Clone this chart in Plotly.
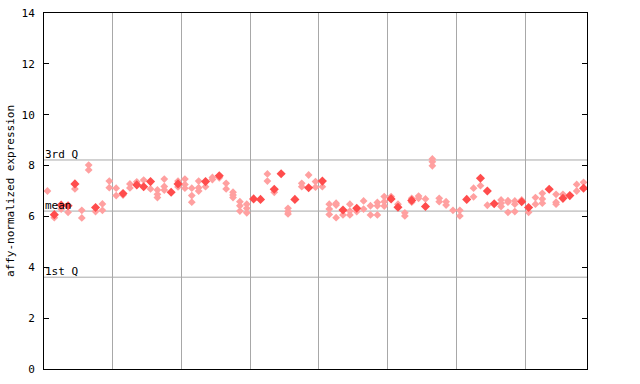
import plotly.graph_objects as go

N = None
# mean (filled) value per sample column
filled = [N, 6.07, 6.45, 6.42, 7.28, N, N, 6.35, N, N,
          N, 6.90, N, 7.24, 7.17, 7.37, N, N, 6.95, 7.28,
          N, N, N, 7.37, N, 7.60, N, N, N, N,
          6.69, 6.67, N, 7.07, 7.68, N, 6.67, N, 7.13, N,
          7.39, N, N, 6.25, N, 6.32, N, N, N, N,
          6.69, 6.36, N, 6.63, N, 6.39, N, N, N, N,
          N, 6.67, N, 7.50, 7.00, 6.50, N, N, N, 6.58,
          6.35, N, N, 7.07, N, 6.71, 6.82, N, 7.11]
# replicate values per sample column
rep1 = [7.00, 5.95, 6.29, 6.16, 7.08, 6.24, 8.02, 6.19, 6.49, 7.39,
        7.11, 6.84, 7.28, 7.36, 7.43, 7.08, 7.04, 7.47, N, 7.39,
        7.47, 7.11, 7.39, 7.17, 7.53, 7.52, 7.30, 6.95, 6.58, 6.48,
        N, N, 7.67, 6.95, N, 6.32, N, 7.30, 7.63, 7.37,
        7.17, 6.48, 6.52, 6.06, 6.48, 6.19, 6.61, 6.42, 6.55, 6.78,
        6.78, 6.48, 6.14, 6.71, 6.80, 6.69, 8.26, 6.71, 6.58, 6.24,
        6.24, N, 7.11, 7.21, 6.44, N, 6.65, 6.62, 6.61, 6.65,
        6.16, 6.74, 6.91, N, 6.87, 6.87, N, 7.26, 7.34]
rep2 = [N, N, N, N, N, 5.94, 7.83, N, 6.24, 7.13,
        6.82, N, 7.12, N, N, N, 6.87, 7.18, N, 7.16,
        7.26, 6.82, 7.13, N, 7.45, N, 7.08, 6.84, 6.42, 6.32,
        N, N, 7.39, N, N, 6.19, N, 7.17, N, 7.15,
        N, 6.29, 6.45, N, 6.21, N, 6.29, 6.06, 6.42, 6.58,
        N, N, 6.02, 6.56, 6.71, N, 8.15, 6.58, 6.45, N,
        6.02, N, 6.77, N, N, N, 6.52, 6.56, 6.48, N,
        N, 6.48, 6.69, N, 6.56, N, N, 7.00, N]
rep3 = [N, N, N, N, N, N, N, N, N, N,
        N, N, N, N, N, N, 6.74, 7.04, N, N,
        7.11, 6.56, 7.00, N, N, N, N, 6.74, 6.21, 6.14,
        N, N, N, N, N, 6.10, N, N, N, N,
        N, 6.08, 5.95, N, 6.06, N, N, N, 6.06, 6.41,
        N, N, N, N, N, N, 7.99, N, N, N,
        N, N, N, N, N, N, 6.39, 6.16, 6.19, N,
        N, N, 6.52, N, 6.48, N, N, N, N]

q3_value = 8.22
mean_value = 6.21
q1_value = 3.61
y_ticks = [0, 2, 4, 6, 8, 10, 12, 14]
group_bounds = [9.5, 19.5, 29.5, 39.5, 49.5, 59.5, 69.5]

cols = list(range(len(filled)))
rx, ry = [], []
for rep in (rep1, rep2, rep3):
    for i, v in zip(cols, rep):
        if v is not None:
            rx.append(i)
            ry.append(v)
fx = [i for i, v in zip(cols, filled) if v is not None]
fy = [v for v in filled if v is not None]

font = "DejaVu Sans Mono, monospace"
fig = go.Figure()
fig.add_trace(go.Scatter(x=rx, y=ry, mode="markers", showlegend=False,
                         marker=dict(symbol="diamond", size=6, color="#ffa0a0",
                                     line=dict(width=0))))
fig.add_trace(go.Scatter(x=fx, y=fy, mode="markers", showlegend=False,
                         marker=dict(symbol="diamond", size=7, color="#ff4c4c",
                                     line=dict(width=0))))

for val, lab in [(q3_value, "3rd Q"), (mean_value, "mean"), (q1_value, "1st Q")]:
    fig.add_shape(type="line", xref="paper", yref="y", x0=0, x1=1, y0=val, y1=val,
                  line=dict(color="#a8a8a8", width=1), layer="below")
    fig.add_annotation(xref="paper", yref="y", x=0, y=val, text=lab, showarrow=False,
                       xanchor="left", yanchor="bottom", xshift=-1, yshift=-3,
                       font=dict(family=font, size=11, color="black"))

fig.update_layout(
    width=640, height=384,
    margin=dict(l=44, r=53, t=13, b=15, autoexpand=False),
    paper_bgcolor="white", plot_bgcolor="white",
    font=dict(family=font, size=11, color="black"),
    xaxis=dict(range=[-0.5, 78.5], tickvals=group_bounds, showticklabels=False,
               ticks="", showgrid=True, gridcolor="#a8a8a8", gridwidth=1,
               showline=True, linecolor="black", linewidth=1, mirror=True,
               zeroline=False, automargin=False),
    yaxis=dict(range=[0, 14], tickvals=y_ticks, ticks="inside", ticklen=5,
               tickcolor="black", showgrid=False, zeroline=False,
               showline=True, linecolor="black", linewidth=1, mirror="ticks",
               automargin=False, ticklabelstandoff=6,
               title=dict(text="affy-normalized expression", standoff=4,
                          font=dict(family=font, size=11))),
)

fig.write_html("out.html")
